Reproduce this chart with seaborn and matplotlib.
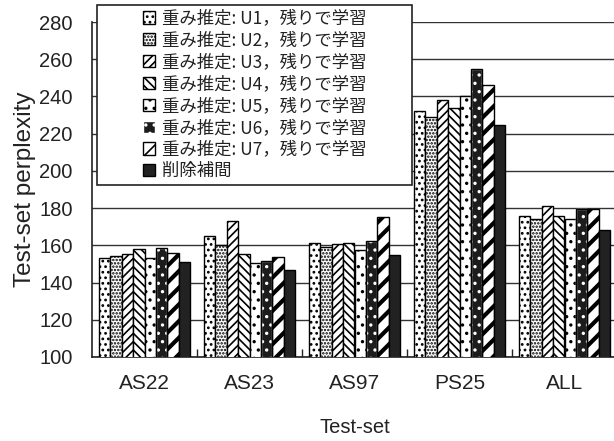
import matplotlib
matplotlib.use("Agg")
import matplotlib.pyplot as plt
from matplotlib.patches import Patch, Rectangle
from matplotlib.ticker import FixedLocator
import seaborn as sns
import pandas as pd

# ---- data ----
test_sets = ["AS22", "AS23", "AS97", "PS25", "ALL"]
methods = [
    "重み推定: U1，残りで学習",
    "重み推定: U2，残りで学習",
    "重み推定: U3，残りで学習",
    "重み推定: U4，残りで学習",
    "重み推定: U5，残りで学習",
    "重み推定: U6，残りで学習",
    "重み推定: U7，残りで学習",
    "削除補間",
]
u1 = [153, 165, 161, 232, 176]
u2 = [154.5, 160, 159, 229, 174]
u3 = [155.5, 173, 160.5, 238, 181]
u4 = [158, 155.5, 161, 234, 176]
u5 = [153, 150.5, 157.5, 240, 174]
u6 = [158.5, 151.5, 162.5, 254.5, 179.5]
u7 = [156, 153.5, 175, 246, 179.5]
deleted_interp = [151, 147, 155, 224.5, 168]
series = [u1, u2, u3, u4, u5, u6, u7, deleted_interp]

y_ticks = [100, 120, 140, 160, 180, 200, 220, 240, 260, 280]

rows = []
for m, vals in zip(methods, series):
    for s, v in zip(test_sets, vals):
        rows.append({"Test-set": s, "perplexity": v, "method": m})
df = pd.DataFrame(rows)

# ---- styles ----
styles = [
    dict(fc="white", ec="black", hatch="..."),
    dict(fc="white", ec="black", hatch="....."),
    dict(fc="white", ec="black", hatch="////"),
    dict(fc="white", ec="black", hatch="\\\\\\\\"),
    dict(fc="white", ec="black", hatch=".."),
    dict(fc="#1c1c1c", ec="white", hatch=".."),
    dict(fc="white", ec="black", hatch="//"),
    dict(fc="#222222", ec="black", hatch=None),
]

sns.set_theme(style="white")
plt.rcParams["font.family"] = ["Liberation Sans", "Noto Sans CJK JP", "DejaVu Sans"]
plt.rcParams["hatch.linewidth"] = 1.2

fig = plt.figure(figsize=(6.14, 4.41), dpi=100)
ax = fig.add_axes([92 / 614, 1 - 357 / 441, 525 / 614, (357 - 22) / 441])

sns.barplot(data=df, x="Test-set", y="perplexity", hue="method",
            hue_order=methods, order=test_sets, width=0.87,
            palette=["white"] * len(methods), edgecolor="black",
            linewidth=1.0, saturation=1, legend=False, ax=ax, zorder=3)

for cont, st in zip(ax.containers, styles):
    for p in cont.patches:
        p.set_facecolor(st["fc"])
        p.set_edgecolor(st["ec"])
        if st["hatch"]:
            p.set_hatch(st["hatch"])
        if st["ec"] == "white":
            ax.add_patch(Rectangle(p.get_xy(), p.get_width(), p.get_height(),
                                   fill=False, edgecolor="black", lw=1.0, zorder=4))
        if st["hatch"] == "//" and hasattr(p, "set_hatch_linewidth"):
            p.set_hatch_linewidth(3.0)

ax.set_ylim(100, 280)
ax.set_xlim(-0.5, 4.5)
ax.yaxis.set_major_locator(FixedLocator(y_ticks))
ax.xaxis.set_minor_locator(FixedLocator([0.5, 1.5, 2.5, 3.5]))
ax.grid(axis="y", color="#333333", lw=1.0, zorder=0)
ax.set_axisbelow(True)
for side in ["left", "bottom"]:
    ax.spines[side].set_color("#222222")
    ax.spines[side].set_linewidth(1.2)
for side in ["top", "right"]:
    ax.spines[side].set_visible(False)

ax.tick_params(axis="y", length=0, pad=14, labelsize=14.5, labelcolor="#222222")
ax.tick_params(axis="x", which="major", length=0, pad=12, labelsize=15, labelcolor="#222222")
ax.tick_params(axis="x", which="minor", direction="in", length=6, width=1, color="#222222", bottom=True)

ax.set_xlabel("Test-set", fontsize=14.5, color="#222222", labelpad=18)
ax.set_ylabel("Test-set perplexity", fontsize=17.5, color="#222222", labelpad=2)

# legend box
x0, x1 = 97 / 614, 412 / 614
y0, y1 = 1 - 185 / 441, 1 - 5 / 441
box = Rectangle((x0, y0), x1 - x0, y1 - y0, transform=fig.transFigure,
                facecolor="white", edgecolor="#222222", lw=1.2, zorder=10)
fig.patches.append(box)

handles = [Patch(facecolor=st["fc"], edgecolor=st["ec"], hatch=st["hatch"]) for st in styles]
leg = fig.legend(handles, methods, loc="center",
                 bbox_to_anchor=(x0, y0, x1 - x0, y1 - y0),
                 bbox_transform=fig.transFigure, frameon=False,
                 prop={"family": ["Noto Sans CJK JP", "DejaVu Sans"], "size": 12.5},
                 handlelength=0.7, handleheight=0.7, handletextpad=0.4,
                 labelspacing=0.22, borderaxespad=0)
leg.set_zorder(11)
for t in leg.get_texts():
    t.set_color("#222222")

fig.savefig("out.png", dpi=100)
